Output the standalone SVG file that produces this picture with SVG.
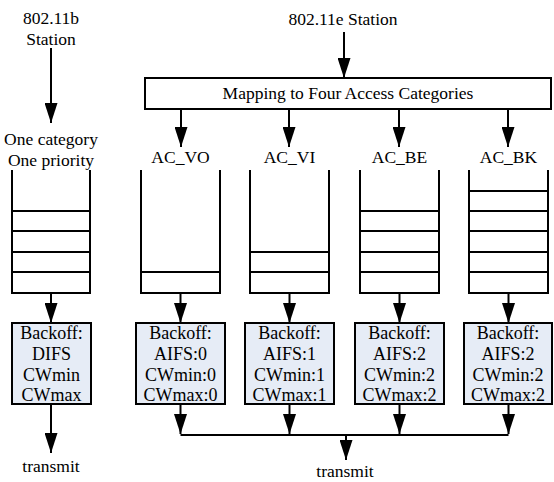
<svg xmlns="http://www.w3.org/2000/svg" width="554" height="482" viewBox="0 0 554 482" font-family="'Liberation Serif', 'Times New Roman', Times, serif">
  <style>
    text { font-family: 'Liberation Serif', Times, serif; font-size: 17.5px; fill: #000; text-anchor: middle; }
    .bt { font-size: 18px; }
    .ln { stroke: #000; stroke-width: 2; fill: none; }
    .bo { stroke: #000; stroke-width: 2; fill: #E6ECF6; }
  </style>
  <defs>
    <marker id="arr" viewBox="0 0 20 13" refX="20" refY="6.5" markerWidth="20" markerHeight="13" markerUnits="userSpaceOnUse" orient="auto">
      <path d="M0,0 L20,6.5 L0,13 Z" fill="#000"/>
    </marker>
  </defs>

  <rect width="554" height="482" fill="#fff"/>

  <!-- 802.11b station -->
  <g id="station-b">
    <text x="51" y="24">802.11b</text>
    <text x="51" y="45">Station</text>
  </g>
  <g id="legacy-label">
    <text x="51" y="145">One category</text>
    <text x="51" y="166">One priority</text>
  </g>
  <g id="legacy-queue">
    <path class="ln" d="M12,170 V293 H90 V170"/>
    <path class="ln" d="M12,211 H90 M12,231 H90 M12,252 H90 M12,272 H90"/>
  </g>
  <g id="legacy-backoff">
    <rect class="bo" x="12" y="323" width="79" height="81"/>
    <text class="bt" x="51.5" y="338.5">Backoff:</text>
    <text class="bt" x="51.5" y="359.5">DIFS</text>
    <text class="bt" x="51.5" y="380.5">CWmin</text>
    <text class="bt" x="51.5" y="400.5">CWmax</text>
  </g>
  <g id="legacy-transmit">
    <text x="51" y="472">transmit</text>
  </g>

  <!-- 802.11e station -->
  <g id="station-e">
    <text x="343" y="25">802.11e Station</text>
  </g>
  <g id="mapping">
    <rect x="145" y="78" width="406" height="31" fill="#fff" stroke="#000" stroke-width="2"/>
    <text x="348" y="99">Mapping to Four Access Categories</text>
  </g>

  <g id="ac-vo">
    <text x="180.5" y="163">AC_VO</text>
    <path class="ln" d="M141,170 V293 H220 V170"/>
    <path class="ln" d="M141,272 H220"/>
  </g>
  <g id="ac-vi">
    <text x="289.5" y="163">AC_VI</text>
    <path class="ln" d="M250,170 V293 H329 V170"/>
    <path class="ln" d="M250,252 H329 M250,272 H329"/>
  </g>
  <g id="ac-be">
    <text x="399.5" y="163">AC_BE</text>
    <path class="ln" d="M360,170 V293 H439 V170"/>
    <path class="ln" d="M360,211 H439 M360,231 H439 M360,252 H439 M360,272 H439"/>
  </g>
  <g id="ac-bk">
    <text x="508.5" y="163">AC_BK</text>
    <path class="ln" d="M469,170 V293 H548 V170"/>
    <path class="ln" d="M469,191 H548 M469,211 H548 M469,231 H548 M469,252 H548 M469,272 H548"/>
  </g>

  <g id="backoff-vo">
    <rect class="bo" x="136" y="323" width="89" height="81"/>
    <text class="bt" x="180.5" y="338.5">Backoff:</text>
    <text class="bt" x="180.5" y="359.5">AIFS:0</text>
    <text class="bt" x="180.5" y="380.5">CWmin:0</text>
    <text class="bt" x="180.5" y="400.5">CWmax:0</text>
  </g>
  <g id="backoff-vi">
    <rect class="bo" x="245" y="323" width="89" height="81"/>
    <text class="bt" x="289.5" y="338.5">Backoff:</text>
    <text class="bt" x="289.5" y="359.5">AIFS:1</text>
    <text class="bt" x="289.5" y="380.5">CWmin:1</text>
    <text class="bt" x="289.5" y="400.5">CWmax:1</text>
  </g>
  <g id="backoff-be">
    <rect class="bo" x="355" y="323" width="89" height="81"/>
    <text class="bt" x="399.5" y="338.5">Backoff:</text>
    <text class="bt" x="399.5" y="359.5">AIFS:2</text>
    <text class="bt" x="399.5" y="380.5">CWmin:2</text>
    <text class="bt" x="399.5" y="400.5">CWmax:2</text>
  </g>
  <g id="backoff-bk">
    <rect class="bo" x="464" y="323" width="88" height="81"/>
    <text class="bt" x="508" y="338.5">Backoff:</text>
    <text class="bt" x="508" y="359.5">AIFS:2</text>
    <text class="bt" x="508" y="380.5">CWmin:2</text>
    <text class="bt" x="508" y="400.5">CWmax:2</text>
  </g>
  <g id="transmit">
    <text x="345" y="477">transmit</text>
  </g>

  <!-- connectors -->
  <g id="connectors">
    <path class="ln" d="M51,48 V123" marker-end="url(#arr)"/>
    <path class="ln" d="M51,293 V323" marker-end="url(#arr)"/>
    <path class="ln" d="M51,404 V453" marker-end="url(#arr)"/>

    <path class="ln" d="M344,32 V78" marker-end="url(#arr)"/>
    <path class="ln" d="M181,109 V147" marker-end="url(#arr)"/>
    <path class="ln" d="M289,109 V147" marker-end="url(#arr)"/>
    <path class="ln" d="M399,109 V147" marker-end="url(#arr)"/>
    <path class="ln" d="M508,109 V147" marker-end="url(#arr)"/>

    <path class="ln" d="M180.5,293 V323" marker-end="url(#arr)"/>
    <path class="ln" d="M289.5,293 V323" marker-end="url(#arr)"/>
    <path class="ln" d="M399.5,293 V323" marker-end="url(#arr)"/>
    <path class="ln" d="M508.5,293 V323" marker-end="url(#arr)"/>

    <path class="ln" d="M180.5,404 V434" marker-end="url(#arr)"/>
    <path class="ln" d="M289.5,404 V434" marker-end="url(#arr)"/>
    <path class="ln" d="M399.5,404 V434" marker-end="url(#arr)"/>
    <path class="ln" d="M508.5,404 V434" marker-end="url(#arr)"/>
    <path class="ln" d="M180.5,435 H508.5"/>
    <path class="ln" d="M346,435 V460" marker-end="url(#arr)"/>
  </g>
</svg>
